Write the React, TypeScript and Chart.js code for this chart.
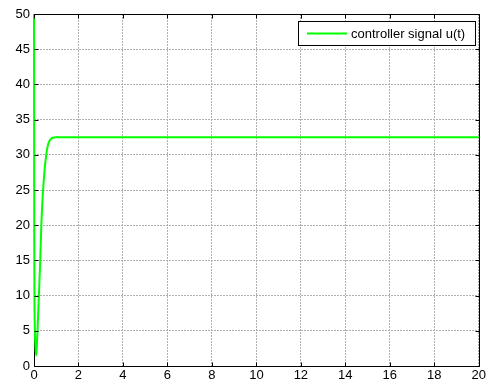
import React, { useEffect, useRef } from "react";
import { Chart, registerables } from "chart.js";

Chart.register(...registerables);

const timeValues = [0, 0.005, 0.01, 0.02, 0.04, 0.07, 0.1, 0.13, 0.17, 0.22, 0.28, 0.33, 0.38, 0.42, 0.48, 0.55, 0.62, 0.7, 0.78, 0.88, 1.0, 1.1, 20];
const signalValues = [50, 35, 20, 10, 5, 2.5, 1.5, 3, 6, 10, 15, 20, 23.5, 25.5, 28, 30, 31.3, 32, 32.3, 32.45, 32.5, 32.5, 32.5];
const xTicks = [0, 2, 4, 6, 8, 10, 12, 14, 16, 18, 20];
const yTicks = [0, 5, 10, 15, 20, 25, 30, 35, 40, 45, 50];
const seriesLabel = "controller signal u(t)";

const FONT = "Arial, 'Liberation Sans', sans-serif";

const boxPlugin = {
  id: "matlabBox",
  afterDatasetsDraw(chart: any) {
    const { ctx, chartArea: a, scales } = chart;
    ctx.save();
    ctx.strokeStyle = "#000";
    ctx.lineWidth = 1;
    ctx.setLineDash([]);
    const L = Math.round(a.left) + 0.5, T = Math.round(a.top) + 0.5;
    const R = Math.round(a.right) + 0.5, B = Math.round(a.bottom) + 0.5;
    ctx.beginPath();
    ctx.moveTo(L, T);
    ctx.lineTo(R, T);
    ctx.lineTo(R, B);
    ctx.moveTo(L, B);
    ctx.lineTo(R, B);
    ctx.stroke();
    const t = 4;
    ctx.beginPath();
    xTicks.forEach((v) => {
      const px = Math.round(scales.x.getPixelForValue(v)) + 0.5;
      ctx.moveTo(px, B);
      ctx.lineTo(px, B - t);
      ctx.moveTo(px, T);
      ctx.lineTo(px, T + t);
    });
    yTicks.forEach((v) => {
      const py = Math.round(scales.y.getPixelForValue(v)) + 0.5;
      ctx.moveTo(L, py);
      ctx.lineTo(L + t, py);
      ctx.moveTo(R, py);
      ctx.lineTo(R - t, py);
    });
    ctx.stroke();

    // legend
    const lx = 298.5, ly = 21.5, lw = 177, lh = 24;
    ctx.fillStyle = "#fff";
    ctx.fillRect(lx, ly, lw, lh);
    ctx.strokeStyle = "#000";
    ctx.strokeRect(lx, ly, lw, lh);
    ctx.strokeStyle = "#00ff00";
    ctx.lineWidth = 2;
    ctx.beginPath();
    ctx.moveTo(307, ly + lh / 2);
    ctx.lineTo(347, ly + lh / 2);
    ctx.stroke();
    ctx.fillStyle = "#000";
    ctx.font = `13px ${FONT}`;
    ctx.textBaseline = "middle";
    ctx.textAlign = "left";
    ctx.fillText(seriesLabel, 351, ly + lh / 2 + 0.5);
    ctx.restore();
  },
};

const leftAxisPlugin = {
  id: "leftAxis",
  beforeDatasetsDraw(chart: any) {
    const { ctx, chartArea: a } = chart;
    ctx.save();
    ctx.strokeStyle = "#000";
    ctx.lineWidth = 1;
    const L = Math.round(a.left) + 0.5;
    ctx.beginPath();
    ctx.moveTo(L, Math.round(a.top) + 0.5);
    ctx.lineTo(L, Math.round(a.bottom) + 0.5);
    ctx.stroke();
    ctx.restore();
  },
};

export default function App() {
  const ref = useRef<HTMLCanvasElement | null>(null);
  useEffect(() => {
    if (!ref.current) return;
    const data = timeValues.map((t, i) => ({ x: t, y: signalValues[i] }));
    const chart = new Chart(ref.current, {
      type: "line",
      data: {
        datasets: [
          {
            label: seriesLabel,
            data,
            borderColor: "#00ff00",
            borderWidth: 2,
            pointRadius: 0,
            cubicInterpolationMode: "monotone",
            fill: false,
            clip: false,
          },
        ],
      },
      options: {
        animation: false,
        responsive: false,
        maintainAspectRatio: false,
        layout: { padding: { top: 14, right: 8, left: 0, bottom: 0 } },
        plugins: { legend: { display: false }, tooltip: { enabled: false } },
        scales: {
          x: {
            type: "linear",
            min: 0,
            max: 20,
            afterFit: (s: any) => {
              s.height = 19;
            },
            afterBuildTicks: (s: any) => {
              s.ticks = xTicks.map((v) => ({ value: v }));
            },
            ticks: { color: "#000", font: { family: FONT, size: 13 }, padding: 2, maxRotation: 0, autoSkip: false },
            grid: { color: "#b0b0b0", drawTicks: false, lineWidth: 1 },
            border: { display: false, dash: [2, 1] },
          },
          y: {
            type: "linear",
            min: 0,
            max: 50,
            afterFit: (s: any) => {
              s.width = 34;
            },
            afterBuildTicks: (s: any) => {
              s.ticks = yTicks.map((v) => ({ value: v }));
            },
            ticks: { color: "#000", font: { family: FONT, size: 13 }, padding: 4, autoSkip: false },
            grid: { color: "#b0b0b0", drawTicks: false, lineWidth: 1 },
            border: { display: false, dash: [2, 1] },
          },
        },
      },
      plugins: [leftAxisPlugin, boxPlugin],
    });
    return () => chart.destroy();
  }, []);
  return (
    <div style={{ position: "fixed", left: 0, top: 0, width: 488, height: 385, background: "#fff" }}>
      <canvas ref={ref} width={488} height={385} style={{ width: 488, height: 385 }} />
    </div>
  );
}
